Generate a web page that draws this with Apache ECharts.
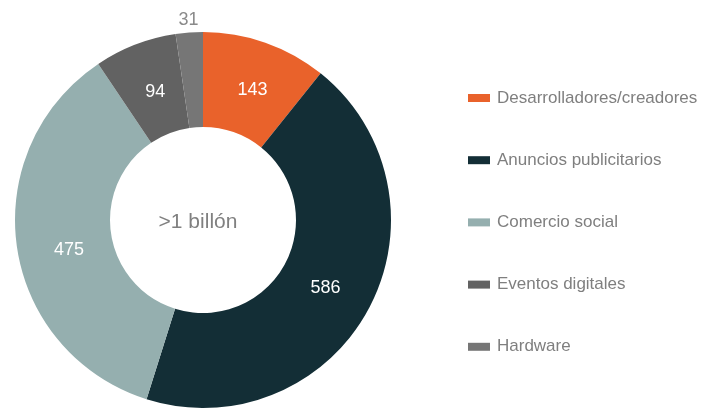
<!DOCTYPE html>
<html>
<head>
<meta charset="utf-8">
<script src="https://cdn.jsdelivr.net/npm/echarts@6/dist/echarts.min.js"></script>
<style>html,body{margin:0;padding:0;background:#fff}#c{width:704px;height:410px}</style>
</head>
<body>
<div id="c"></div>
<script>
const categories = ['Desarrolladores/creadores', 'Anuncios publicitarios', 'Comercio social', 'Eventos digitales', 'Hardware'];
const values = [143, 586, 475, 94, 31];
const colors = ['#E9622B', '#132E36', '#95AFAF', '#626262', '#767676'];
const centerText = '>1 billón';

const FONT = 'Liberation Sans, Arial, sans-serif';
const chart = echarts.init(document.getElementById('c'), null, {renderer: 'canvas'});
const labelTweaks = [
  {offset: [2, 5]},
  {offset: [-4, 0]},
  {offset: [8, 10]},
  {offset: [4, 6]},
  {color: '#8a8a8a', offset: [-4, -57]}
];
const data = categories.map((name, i) => ({
  name: name,
  value: values[i],
  itemStyle: {color: colors[i]},
  label: labelTweaks[i]
}));
chart.setOption({
  animation: false,
  textStyle: {fontFamily: FONT},
  legend: {
    orient: 'vertical',
    left: 468,
    top: 88,
    padding: 0,
    icon: 'rect',
    itemWidth: 22,
    itemHeight: 8,
    itemGap: 42.2,
    selectedMode: false,
    textStyle: {fontSize: 17, color: '#7f7f7f', lineHeight: 20, fontFamily: FONT, padding: [0, 0, 0, 2]},
    data: categories
  },
  graphic: [{
    type: 'text',
    x: 198,
    y: 222,
    style: {text: centerText, fontSize: 21, fill: '#808080', align: 'center', verticalAlign: 'middle', fontFamily: FONT}
  }],
  series: [{
    type: 'pie',
    center: [203, 220],
    radius: [93, 188],
    startAngle: 90,
    clockwise: true,
    silent: true,
    label: {show: true, position: 'inside', color: '#ffffff', fontSize: 18, formatter: '{c}', fontFamily: FONT},
    labelLine: {show: false},
    emphasis: {disabled: true},
    data: data
  }]
});
</script>
</body>
</html>
